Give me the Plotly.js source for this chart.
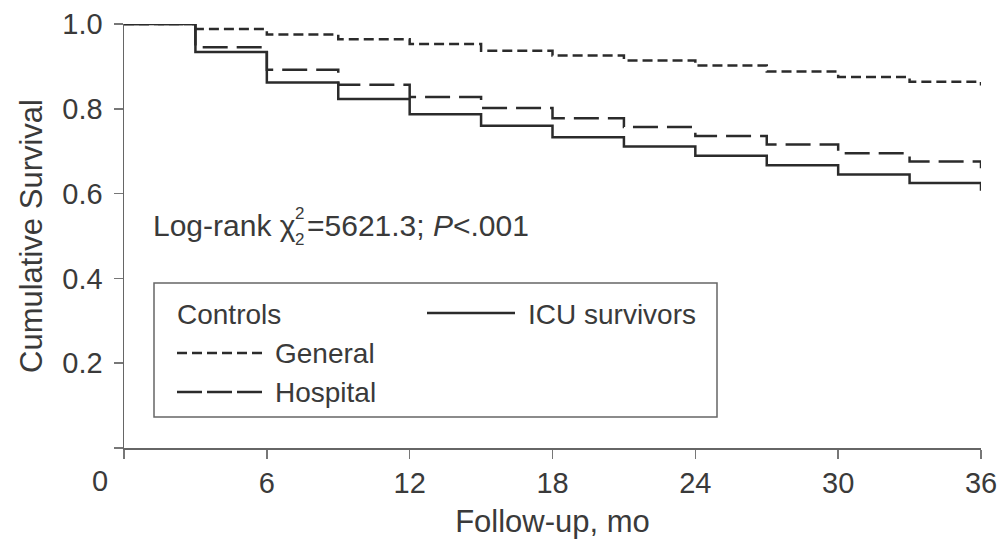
<!DOCTYPE html>
<html>
<head>
<meta charset="utf-8">
<script src="https://cdn.plot.ly/plotly-3.0.1.min.js"></script>
<style>html,body{margin:0;padding:0;background:#fff;}#chart{width:1000px;height:539px;}</style>
</head>
<body>
<div id="chart"></div>
<script>
// Follow-up months (step times)
const months = [0, 3, 6, 9, 12, 15, 18, 21, 24, 27, 30, 33, 36];
// Cumulative survival
const icuSurvivors = [1.0, 0.934, 0.862, 0.823, 0.787, 0.760, 0.733, 0.711, 0.689, 0.667, 0.645, 0.625, 0.607];
const hospitalControls = [1.0, 0.945, 0.892, 0.857, 0.828, 0.802, 0.778, 0.757, 0.736, 0.716, 0.695, 0.676, 0.660];
const generalControls = [1.0, 0.988, 0.975, 0.964, 0.953, 0.937, 0.926, 0.914, 0.902, 0.888, 0.875, 0.864, 0.855];

const xTickVals = [0, 6, 12, 18, 24, 30, 36];
const xTickText = ["", "6", "12", "18", "24", "30", "36"];
const yTickVals = [0, 0.2, 0.4, 0.6, 0.8, 1.0];
const yTickText = ["", "0.2", "0.4", "0.6", "0.8", "1.0"];

const FONT = "Liberation Sans, Arial, Helvetica, sans-serif";
const TXT = "#3a3a3a";
const LINE = "#2b2b2b";

const traces = [
  {x: months, y: generalControls, name: "General", mode: "lines", line: {shape: "hv", color: LINE, width: 2.5, dash: "10px,5px"}, cliponaxis: false},
  {x: months, y: hospitalControls, name: "Hospital", mode: "lines", line: {shape: "hv", color: LINE, width: 2.5, dash: "25px,9px"}, cliponaxis: false},
  {x: months, y: icuSurvivors, name: "ICU survivors", mode: "lines", line: {shape: "hv", color: LINE, width: 2.5}, cliponaxis: false}
];

function px2x(p) { return (p - 124) / 857; }
function px2y(p) { return (448 - p) / 424; }

const annotations = [
  {text: "Log-rank χ", x: px2x(151), y: px2y(226), xref: "paper", yref: "paper", xanchor: "left", yanchor: "middle", showarrow: false, font: {size: 30, color: TXT, family: FONT}},
  {text: "2", x: px2x(299), y: px2y(214), xref: "paper", yref: "paper", xanchor: "center", yanchor: "middle", showarrow: false, font: {size: 17, color: TXT, family: FONT}},
  {text: "2", x: px2x(299), y: px2y(239), xref: "paper", yref: "paper", xanchor: "center", yanchor: "middle", showarrow: false, font: {size: 17, color: TXT, family: FONT}},
  {text: "=5621.3; <i>P</i><.001", x: px2x(305), y: px2y(226), xref: "paper", yref: "paper", xanchor: "left", yanchor: "middle", showarrow: false, font: {size: 30, color: TXT, family: FONT}},
  {text: "Controls", x: px2x(175), y: px2y(314), xref: "paper", yref: "paper", xanchor: "left", yanchor: "middle", showarrow: false, font: {size: 28, color: TXT, family: FONT}},
  {text: "General", x: px2x(273), y: px2y(353), xref: "paper", yref: "paper", xanchor: "left", yanchor: "middle", showarrow: false, font: {size: 28, color: TXT, family: FONT}},
  {text: "Hospital", x: px2x(273), y: px2y(392), xref: "paper", yref: "paper", xanchor: "left", yanchor: "middle", showarrow: false, font: {size: 28, color: TXT, family: FONT}},
  {text: "ICU survivors", x: px2x(526), y: px2y(314), xref: "paper", yref: "paper", xanchor: "left", yanchor: "middle", showarrow: false, font: {size: 28, color: TXT, family: FONT}},
  {text: "0", x: px2x(100), y: px2y(481), xref: "paper", yref: "paper", xanchor: "center", yanchor: "middle", showarrow: false, font: {size: 29, color: TXT, family: FONT}}
];

const shapes = [
  {type: "rect", xref: "paper", yref: "paper", x0: px2x(154), x1: px2x(717), y0: px2y(417), y1: px2y(283), line: {color: "#666", width: 1.5}},
  {type: "line", xref: "paper", yref: "paper", x0: px2x(177), x1: px2x(262), y0: px2y(353), y1: px2y(353), line: {color: LINE, width: 2.5, dash: "10px,5px"}},
  {type: "line", xref: "paper", yref: "paper", x0: px2x(177), x1: px2x(262), y0: px2y(392), y1: px2y(392), line: {color: LINE, width: 2.5, dash: "25px,5px"}},
  {type: "line", xref: "paper", yref: "paper", x0: px2x(427), x1: px2x(515), y0: px2y(313), y1: px2y(313), line: {color: LINE, width: 2.5}}
];

const layout = {
  width: 1000, height: 539,
  margin: {l: 124, r: 19, t: 24, b: 91},
  paper_bgcolor: "#fff", plot_bgcolor: "#fff",
  showlegend: false,
  font: {family: FONT, color: TXT},
  xaxis: {
    range: [0, 36], tickvals: xTickVals, ticktext: xTickText,
    showgrid: false, zeroline: false, showline: true, linecolor: "#666", linewidth: 1.5,
    ticks: "outside", ticklen: 9, tickwidth: 1.5, tickcolor: "#777",
    tickfont: {size: 29, color: TXT, family: FONT},
    title: {text: "Follow-up, mo", font: {size: 31, color: TXT, family: FONT}, standoff: 14}
  },
  yaxis: {
    range: [0, 1], tickvals: yTickVals, ticktext: yTickText,
    showgrid: false, zeroline: false, showline: true, linecolor: "#666", linewidth: 1.5,
    ticks: "outside", ticklen: 9, tickwidth: 1.5, tickcolor: "#777", ticklabelstandoff: 5,
    tickfont: {size: 29, color: TXT, family: FONT},
    title: {text: "Cumulative Survival", font: {size: 31, color: TXT, family: FONT}, standoff: 10}
  },
  annotations: annotations,
  shapes: shapes
};

Plotly.newPlot("chart", traces, layout, {displayModeBar: false, staticPlot: true});
</script>
</body>
</html>
